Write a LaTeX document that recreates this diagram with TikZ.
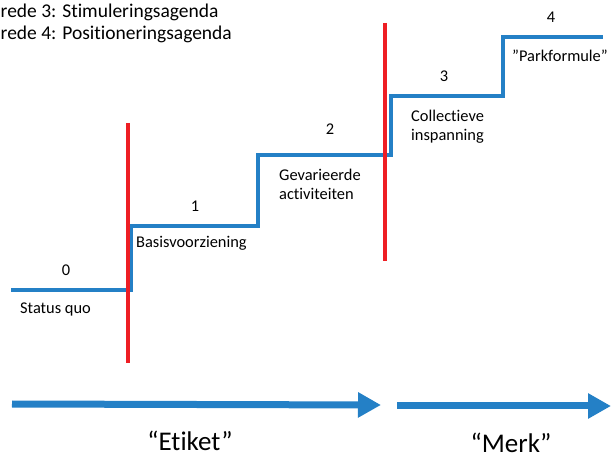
\documentclass[tikz,border=0pt]{standalone}
\usepackage{fontspec}
\setmainfont{Carlito}[Ligatures=NoCommon]
\usetikzlibrary{arrows.meta, positioning}
\definecolor{stairblue}{RGB}{36,128,198}
\definecolor{borderred}{RGB}{238,30,36}
\tikzstyle{stair} = [line width=4pt, draw=stairblue, line join=miter]
\tikzstyle{border} = [line width=4pt, draw=borderred]
\tikzstyle{phase} = [line width=7pt, draw=stairblue, -{Triangle[length=23pt, width=24pt]}]
\tikzstyle{header} = [anchor=west, inner sep=0pt, font=\fontsize{19.5}{22}\selectfont]
\tikzstyle{num} = [inner sep=0pt, font=\fontsize{16.4}{19}\selectfont]
\tikzstyle{caption} = [anchor=north west, align=left, inner sep=0pt, font=\fontsize{16.4}{19}\selectfont]
\tikzstyle{phasename} = [inner sep=0pt, font=\fontsize{27}{30}\selectfont]

\begin{document}
\begin{tikzpicture}[x=1pt, y=-1pt]
\useasboundingbox (0,0) rectangle (611,462);

\node (h3) [header] at (0.5,12) {rede 3: Stimuleringsagenda};
\node (h4) [header] at (0.5,34) {rede 4: Positioneringsagenda};

% stairs
\coordinate (a0) at (11,290);
\coordinate (a1) at (131,290);
\coordinate (b0) at (131,226);
\coordinate (b1) at (258,226);
\coordinate (c0) at (258,155);
\coordinate (c1) at (391,155);
\coordinate (d0) at (391,96);
\coordinate (d1) at (503,96);
\coordinate (e0) at (503,37);
\coordinate (e1) at (603,37);
\draw [stair] (a0) -- (a1) -- (b0) -- (b1) -- (c0) -- (c1) -- (d0) -- (d1) -- (e0) -- (e1);

\node (0) [num] at (66,270) {0};
\node (1) [num] at (195,206) {1};
\node (2) [num] at (330,129) {2};
\node (3) [num] at (444,76) {3};
\node (4) [num] at (551,17) {4};

\node (s0) [caption] at (20,303) {Status quo};
\node (s1) [caption] at (136,236) {Basisvoorziening};
\node (s2) [caption] at (279,169) {Gevarieerde\\activiteiten};
\node (s3) [caption] at (411,110) {Collectieve\\inspanning};
\node (s4) [caption] at (512,50) {”Parkformule”};

% borders
\coordinate (r1t) at (128,123);
\coordinate (r1b) at (128,363);
\coordinate (r2t) at (385,23);
\coordinate (r2b) at (385,261);
\draw [border] (r1t) -- (r1b);
\draw [border] (r2t) -- (r2b);

% phases
\coordinate (p1s) at (12,404);
\coordinate (p1e) at (381,405);
\coordinate (p2s) at (397,406);
\coordinate (p2e) at (611,406);
\draw [phase] (p1s) -- (p1e);
\draw [phase] (p2s) -- (p2e);

\node (etiket) [phasename] at (190,441) {“Etiket”};
\node (merk) [phasename] at (511,443) {“Merk”};

\end{tikzpicture}
\end{document}
